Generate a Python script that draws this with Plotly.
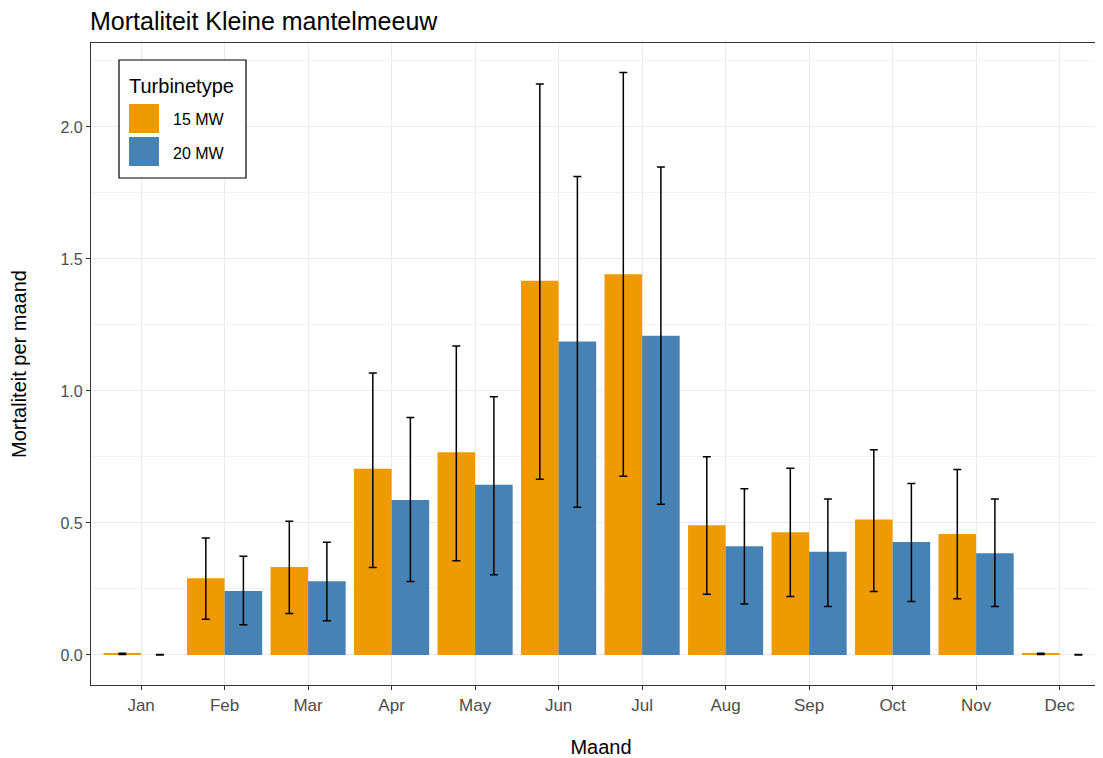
import plotly.graph_objects as go

# Data
maanden = ["Jan", "Feb", "Mar", "Apr", "May", "Jun", "Jul", "Aug", "Sep", "Oct", "Nov", "Dec"]

mort_15mw = [0.004, 0.290, 0.333, 0.705, 0.768, 1.417, 1.442, 0.491, 0.465, 0.513, 0.458, 0.004]
hoog_15mw = [0.006, 0.443, 0.506, 1.068, 1.170, 2.163, 2.206, 0.751, 0.707, 0.777, 0.702, 0.006]
laag_15mw = [0.002, 0.135, 0.157, 0.331, 0.357, 0.665, 0.677, 0.230, 0.221, 0.240, 0.213, 0.002]

mort_20mw = [0.000, 0.242, 0.279, 0.587, 0.645, 1.187, 1.209, 0.412, 0.391, 0.428, 0.385, 0.000]
hoog_20mw = [0.002, 0.374, 0.427, 0.899, 0.978, 1.812, 1.848, 0.629, 0.591, 0.649, 0.591, 0.002]
laag_20mw = [0.000, 0.114, 0.129, 0.278, 0.304, 0.559, 0.571, 0.193, 0.183, 0.202, 0.183, 0.000]

turbines = ["15 MW", "20 MW"]
kleuren = ["#EE9A00", "#4682B4"]

FONT = "Liberation Sans, Arial, sans-serif"

# the page puts the figure 8px in from the top-left, so work in figure pixels
OFF = 8
W, H = 1103, 758
L, T, B, R = 83, 35, 81, 0
PW, PH = W - L - R, H - T - B


def px(x):
    # screen pixel -> paper x
    return (x - OFF - L) / PW


def py(y):
    # screen pixel -> paper y
    return (H - B - (y - OFF)) / PH


fig = go.Figure()

series = [(mort_15mw, hoog_15mw, laag_15mw), (mort_20mw, hoog_20mw, laag_20mw)]
for (vals, hoog, laag), naam, kleur in zip(series, turbines, kleuren):
    fig.add_trace(go.Bar(
        x=maanden,
        y=vals,
        name=naam,
        marker=dict(color=kleur, line=dict(width=0)),
        error_y=dict(
            type="data",
            symmetric=False,
            array=[h - v for h, v in zip(hoog, vals)],
            arrayminus=[v - l for v, l in zip(vals, laag)],
            color="black",
            thickness=1.5,
            width=4,
        ),
        showlegend=False,
    ))

# hand-drawn legend in ggplot style (big square keys)
shapes = [
    dict(type="rect", xref="paper", yref="paper",
         x0=px(119), x1=px(246), y0=py(178), y1=py(60),
         line=dict(color="black", width=1.2), fillcolor="white", layer="above"),
]
annotations = [
    dict(text="Turbinetype", xref="paper", yref="paper", x=px(127), y=py(86),
         xanchor="left", yanchor="middle", showarrow=False,
         font=dict(family=FONT, size=20, color="black")),
]
for i, (naam, kleur) in enumerate(zip(turbines, kleuren)):
    top = 104 + i * 33
    shapes.append(dict(type="rect", xref="paper", yref="paper",
                       x0=px(129), x1=px(159), y0=py(top + 29), y1=py(top),
                       line=dict(width=0), fillcolor=kleur, layer="above"))
    annotations.append(dict(text=naam, xref="paper", yref="paper", x=px(171), y=py(top + 16),
                            xanchor="left", yanchor="middle", showarrow=False,
                            font=dict(family=FONT, size=16, color="black")))

fig.update_layout(
    width=W,
    height=H,
    margin=dict(l=L, r=R, t=T, b=B, autoexpand=False),
    paper_bgcolor="white",
    plot_bgcolor="white",
    barmode="group",
    bargap=0.1,
    bargroupgap=0,
    font=dict(family=FONT, color="black"),
    title=dict(text="Mortaliteit Kleine mantelmeeuw", x=(L - 1) / W, xanchor="left",
               y=1 - 13 / H, yanchor="middle",
               font=dict(family=FONT, size=25, color="black")),
    xaxis=dict(
        title=dict(text="Maand", font=dict(family=FONT, size=20, color="black"), standoff=26),
        automargin=False,
        range=[-0.6, -0.6 + PW / 83.5],
        showgrid=True, gridcolor="#EBEBEB", gridwidth=1,
        showline=True, linecolor="#333333", linewidth=1.2, mirror=True,
        ticks="outside", ticklen=4, tickcolor="#333333",
        tickfont=dict(family=FONT, size=17, color="#4D4D4D"),
    ),
    yaxis=dict(
        title=dict(text="Mortaliteit per maand", font=dict(family=FONT, size=20, color="black"), standoff=33),
        automargin=False,
        range=[-0.114, 2.318],
        tickvals=[0, 0.5, 1.0, 1.5, 2.0],
        ticktext=["0.0", "0.5", "1.0", "1.5", "2.0"],
        showgrid=True, gridcolor="#EBEBEB", gridwidth=1,
        minor=dict(tickvals=[0.25, 0.75, 1.25, 1.75, 2.25], showgrid=True, gridcolor="#F3F3F3", gridwidth=1),
        zeroline=False,
        showline=True, linecolor="#333333", linewidth=1.2,
        ticks="outside", ticklen=4, tickcolor="#333333",
        tickfont=dict(family=FONT, size=16, color="#4D4D4D"),
    ),
    shapes=shapes,
    annotations=annotations,
)

fig.write_html("out.html")
